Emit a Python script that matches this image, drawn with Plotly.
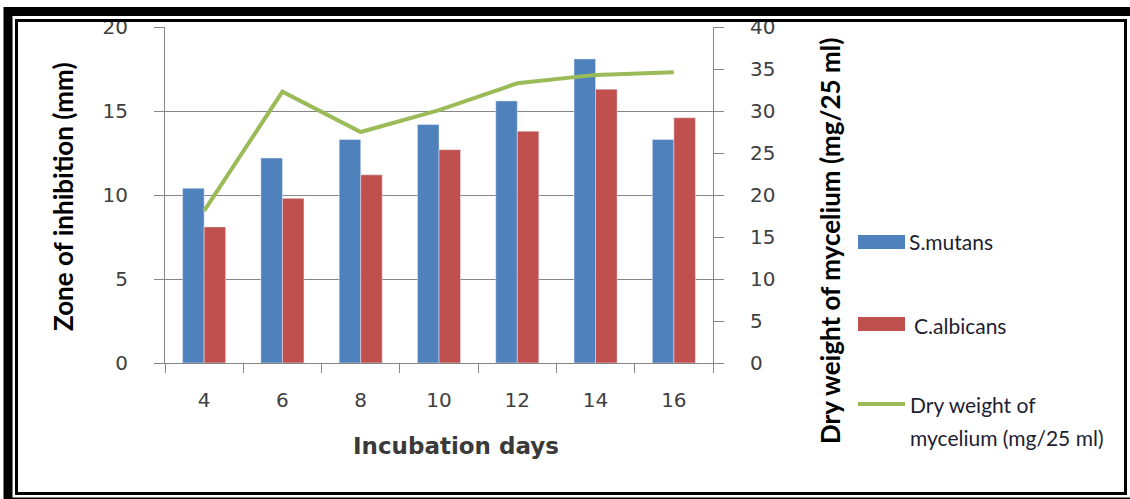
import plotly.graph_objects as go

# Incubation days and measured responses
days = ["4", "6", "8", "10", "12", "14", "16"]
s_mutans = [10.4, 12.2, 13.3, 14.2, 15.6, 18.1, 13.3]      # zone of inhibition (mm)
c_albicans = [8.1, 9.8, 11.2, 12.7, 13.8, 16.3, 14.6]      # zone of inhibition (mm)
dry_weight = [18.1, 32.3, 27.5, 30.1, 33.3, 34.3, 34.6]   # dry weight of mycelium (mg/25 ml)

left_ticks = [0, 5, 10, 15, 20]
right_ticks = [0, 5, 10, 15, 20, 25, 30, 35, 40]

BLUE = "#4F81BD"
RED = "#C0504D"
GREEN = "#9BBB59"
GRID = "#868686"
TICKFONT = dict(family="DejaVu Sans", size=20, color="#404040")

W, H = 1130, 499
PL, PR, PT, PB = 165, 713, 27, 363


def px(x):
    return (x - PL) / (PR - PL)


def py(y):
    return (PB - y) / (PB - PT)


fig = go.Figure()
fig.add_trace(go.Bar(x=days, y=s_mutans, name="S.mutans", marker_color=BLUE,
                     showlegend=False))
fig.add_trace(go.Bar(x=days, y=c_albicans, name="C.albicans", marker_color=RED,
                     showlegend=False))
fig.add_trace(go.Scatter(x=days, y=dry_weight, yaxis="y2", mode="lines",
                         name="Dry weight of mycelium (mg/25 ml)",
                         line=dict(color=GREEN, width=4), showlegend=False))

shapes = [
    # double frame around the figure
    dict(type="rect", xref="paper", yref="paper", x0=px(8), x1=px(1140),
         y0=py(11.5), y1=py(502), line=dict(color="black", width=9)),
    dict(type="rect", xref="paper", yref="paper", x0=px(16.5), x1=px(1125.5),
         y0=py(20.5), y1=py(493.5), line=dict(color="black", width=3)),
    # legend keys
    dict(type="rect", xref="paper", yref="paper", x0=px(858), x1=px(905),
         y0=py(249), y1=py(235), fillcolor=BLUE, line=dict(width=0)),
    dict(type="rect", xref="paper", yref="paper", x0=px(858), x1=px(905),
         y0=py(331), y1=py(317), fillcolor=RED, line=dict(width=0)),
    dict(type="line", xref="paper", yref="paper", x0=px(858), x1=px(905),
         y0=py(404), y1=py(404), line=dict(color=GREEN, width=4)),
]

LEGFONT = dict(family="Lato", size=21, color="#1e1e30")
annotations = [
    dict(text="S.mutans", x=px(907), y=py(242), font=LEGFONT),
    dict(text="C.albicans", x=px(912), y=py(325), font=LEGFONT),
    dict(text="Dry weight of", x=px(908), y=py(404), font=LEGFONT),
    dict(text="mycelium (mg/25 ml)", x=px(908), y=py(437), font=LEGFONT),
]
for a in annotations:
    a.update(xref="paper", yref="paper", xanchor="left", yanchor="middle",
             showarrow=False)

annotations += [
    dict(text="<b>Zone of inhibition (mm)</b>", x=px(63), y=py(197),
         textangle=-90, font=dict(family="Lato", size=26, color="black")),
    dict(text="<b>Dry weight of mycelium (mg/25 ml)</b>", x=px(830), y=py(241),
         textangle=-90, font=dict(family="Lato", size=26, color="black")),
    dict(text="<b>Incubation days</b>", x=px(456), y=py(446),
         font=dict(family="DejaVu Sans", size=23, color="#3a3a3a")),
]
for a in annotations[-3:]:
    a.update(xref="paper", yref="paper", xanchor="center", yanchor="middle",
             showarrow=False)

fig.update_layout(
    width=W, height=H,
    margin=dict(l=PL, r=W - PR, t=PT, b=H - PB, pad=0),
    paper_bgcolor="white", plot_bgcolor="white",
    barmode="group", bargap=0.45, bargroupgap=0,
    showlegend=False,
    shapes=shapes, annotations=annotations,
    xaxis=dict(type="category", tickson="boundaries", ticks="outside",
               ticklen=9, tickcolor=GRID, showline=True, linecolor=GRID,
               linewidth=1, showgrid=False, tickfont=TICKFONT,
               ticklabelstandoff=19),
    yaxis=dict(range=[0, 20], tickvals=left_ticks, ticks="outside",
               ticklen=10, tickcolor=GRID, showline=True, linecolor=GRID,
               linewidth=1, showgrid=True, gridcolor=GRID, gridwidth=1,
               zeroline=False, tickfont=TICKFONT, ticklabelstandoff=22),
    yaxis2=dict(range=[0, 40], tickvals=right_ticks, overlaying="y",
                side="right", ticks="outside", ticklen=10, tickcolor=GRID,
                showline=True, linecolor=GRID, linewidth=1, showgrid=False,
                zeroline=False, tickfont=TICKFONT, ticklabelstandoff=22),
)

fig.write_html("out.html")
